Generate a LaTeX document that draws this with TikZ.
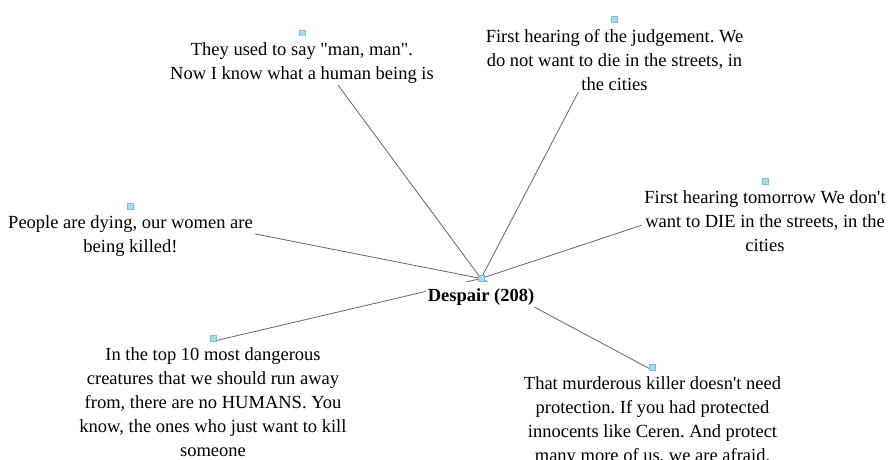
\documentclass[tikz,border=0pt]{standalone}
\usepackage{fontspec}
\setmainfont{Liberation Serif}[Ligatures=TeXOff]
\usepackage{tikz}
\usetikzlibrary{positioning,backgrounds}

\definecolor{markfill}{HTML}{A6DCEF}
\definecolor{markline}{HTML}{7CBCD4}
\frenchspacing
\newcommand{\qtop}{\rule{0pt}{17pt}}

\begin{document}
\begin{tikzpicture}[
			x=1pt, y=-1pt,
			every node/.style={font=\fontsize{18.5}{24}\selectfont},
			marker/.style={draw=markline, fill=markfill, line width=0.6pt, minimum size=6pt, inner sep=0pt},
			quote/.style={fill=white, align=center, inner sep=2pt},
			link/.style={draw=black!60, line width=0.8pt}
			]
			\useasboundingbox (0,0) rectangle (888,460);
			
			% central theme
			\node[marker] (hub) at (481,278.5) {};
			\node[quote, below=0pt of hub, font=\fontsize{18.5}{24}\selectfont\bfseries] (despair) {\qtop Despair (208)};
			
			% quotes round it
			\node[marker] (sqman) at (302,33) {};
			\node[quote, below=0pt of sqman] (man) {\qtop They used to say "man, man".\\Now I know what a human being is};
			
			\node[marker] (sqjudge) at (614.5,19.5) {};
			\node[quote, below=0pt of sqjudge] (judge) {\qtop First hearing of the judgement. We\\do not want to die in the streets, in\\the cities};
			
			\node[marker] (sqtomorrow) at (765,181) {};
			\node[quote, below=0pt of sqtomorrow] (tomorrow) {\qtop First hearing tomorrow We don't\\want to DIE in the streets, in the\\cities};
			
			\node[marker] (sqpeople) at (130.5,206) {};
			\node[quote, below=0pt of sqpeople] (people) {\qtop People are dying, our women are\\being killed!};
			
			\node[marker] (sqtop) at (213,338) {};
			\node[quote, below=0pt of sqtop] (top) {\qtop In the top 10 most dangerous\\creatures that we should run away\\from, there are no HUMANS. You\\know, the ones who just want to kill\\someone};
			
			\node[marker] (sqkiller) at (652.5,367) {};
			\node[quote, below=0pt of sqkiller] (killer) {\qtop That murderous killer doesn't need\\protection. If you had protected\\innocents like Ceren. And protect\\many more of us, we are afraid.};
			
			% spokes, under the text boxes
			\begin{scope}[on background layer]
				\foreach \leaf in {sqman, sqjudge, sqtomorrow, sqpeople, sqtop, sqkiller}
				\draw[link] (hub.center) -- (\leaf.south);
			\end{scope}
		\end{tikzpicture}
\end{document}
